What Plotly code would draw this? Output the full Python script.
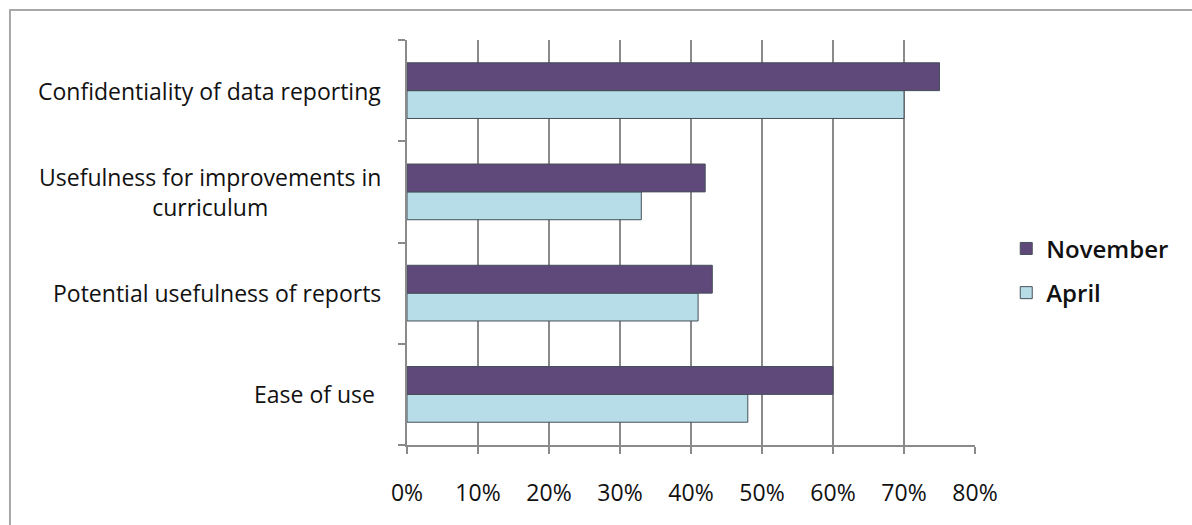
import plotly.graph_objects as go

# Data (categories listed bottom to top)
categories = [
    "Ease of use",
    "Potential usefulness of reports",
    "Usefulness for improvements in curriculum",
    "Confidentiality of data reporting",
]
label_text = [
    "Ease of use ",
    "Potential usefulness of reports",
    "Usefulness for improvements in<br>curriculum",
    "Confidentiality of data reporting",
]
november = [0.60, 0.43, 0.42, 0.75]
april = [0.48, 0.41, 0.33, 0.70]
x_ticks = [0, 0.1, 0.2, 0.3, 0.4, 0.5, 0.6, 0.7, 0.8]
x_tick_labels = ["0%", "10%", "20%", "30%", "40%", "50%", "60%", "70%", "80%"]

FONT = "Open Sans"
GRID = "#8a8a8a"

fig = go.Figure()
fig.add_trace(go.Bar(
    y=categories, x=april, orientation="h", name="April",
    marker=dict(color="#B7DEE8", line=dict(color="#46505a", width=1)),
    legendgroup="a", legendrank=2,
))
fig.add_trace(go.Bar(
    y=categories, x=november, orientation="h", name="November",
    marker=dict(color="#5F497A", line=dict(color="#46505a", width=1)),
    legendgroup="n", legendrank=1,
))

for cat, txt in zip(categories, label_text):
    fig.add_annotation(
        x=0, xref="paper", xshift=-24, xanchor="right",
        y=cat, yref="y", yanchor="middle",
        text=txt, showarrow=False, align="center",
        font=dict(family=FONT, size=23, color="#111111", weight=500),
    )

# outer frame (left and top visible)
fig.add_shape(type="rect", xref="paper", yref="paper",
              x0=-0.699, x1=1.5, y0=-0.3, y1=1.074,
              line=dict(color="#a8a8a8", width=2), layer="below")

fig.update_layout(
    width=1192, height=525,
    margin=dict(l=407, r=217, t=40, b=80),
    paper_bgcolor="white", plot_bgcolor="white",
    barmode="group", bargap=0.45, bargroupgap=0,
    showlegend=True,
    legend=dict(
        x=1.055, xanchor="left", y=0.43, yanchor="middle",
        traceorder="grouped", tracegroupgap=10,
        font=dict(family=FONT, size=24, color="#111111", weight=600),
        bgcolor="rgba(0,0,0,0)", itemwidth=30,
    ),
    xaxis=dict(
        range=[0, 0.8], tickvals=x_ticks, ticktext=x_tick_labels,
        showgrid=True, gridcolor=GRID, gridwidth=1.5,
        showline=True, linecolor=GRID, linewidth=1.5,
        ticks="outside", ticklen=7, tickcolor=GRID, tickwidth=1.5,
        ticklabelstandoff=20,
        tickfont=dict(family=FONT, size=23, color="#111111", weight=500),
        zeroline=False, fixedrange=True,
    ),
    yaxis=dict(
        categoryorder="array", categoryarray=categories,
        showticklabels=False,
        showline=True, linecolor=GRID, linewidth=1.5,
        ticks="outside", ticklen=7, tickcolor=GRID, tickwidth=1.5,
        tickson="boundaries", showgrid=False, zeroline=False,
        fixedrange=True,
    ),
)

fig.write_html("out.html")
